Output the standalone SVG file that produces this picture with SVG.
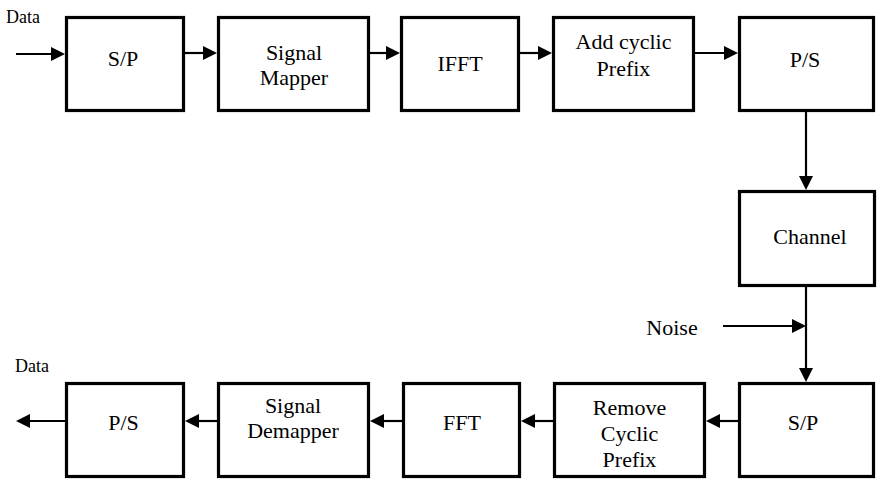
<svg xmlns="http://www.w3.org/2000/svg" width="877" height="479" viewBox="0 0 877 479" font-family="'Liberation Serif', 'Times New Roman', serif">
<style>
.box{fill:#fff;stroke:#000;stroke-width:3.2}
text{font-family:"Liberation Serif","Times New Roman",Times,serif;fill:#000}
.t{font-size:22px;text-anchor:middle}
.lbl{font-size:18px}
.c{stroke:#000;stroke-width:2.2;fill:none;marker-end:url(#ah)}
</style>
<defs>
<marker id="ah" markerUnits="userSpaceOnUse" markerWidth="16" markerHeight="16" refX="8" refY="7" orient="auto">
<path d="M0,0 L14,7 L0,14 Z" fill="#000"/>
</marker>
</defs>
<rect width="877" height="479" fill="#fff"/>
<g id="connectors">
<line class="c" x1="16" y1="54" x2="59" y2="54"/>
<line class="c" x1="185" y1="53" x2="211" y2="53"/>
<line class="c" x1="370" y1="53" x2="394" y2="53"/>
<line class="c" x1="520" y1="53" x2="546" y2="53"/>
<line class="c" x1="688" y1="53" x2="732" y2="53"/>
<line class="c" x1="806" y1="112" x2="806" y2="184"/>
<line class="c" x1="806" y1="287" x2="806" y2="376"/>
<line class="c" x1="723" y1="326" x2="800" y2="326"/>
<line class="c" x1="738" y1="421" x2="712" y2="421"/>
<line class="c" x1="553" y1="421" x2="527" y2="421"/>
<line class="c" x1="402" y1="421" x2="376" y2="421"/>
<line class="c" x1="217" y1="421" x2="191" y2="421"/>
<line class="c" x1="65" y1="421" x2="22" y2="421"/>
</g>
<g id="data-in"><text class="lbl" x="6" y="23">Data</text></g>
<g id="data-out"><text class="lbl" x="15" y="372">Data</text></g>
<g id="noise"><text class="t" x="672" y="335">Noise</text></g>
<g id="sp-tx"><rect class="box" x="66.5" y="17.5" width="117" height="93"/><text class="t" x="123" y="66">S/P</text></g>
<g id="mapper"><rect class="box" x="218.5" y="17.5" width="150" height="93"/><text class="t" x="294" y="60">Signal</text><text class="t" x="294" y="85">Mapper</text></g>
<g id="ifft"><rect class="box" x="401.5" y="17.5" width="117" height="93"/><text class="t" x="460" y="71">IFFT</text></g>
<g id="add-cp"><rect class="box" x="553.5" y="17.5" width="140" height="93"/><text class="t" x="623.5" y="49">Add cyclic</text><text class="t" x="623.5" y="76">Prefix</text></g>
<g id="ps-tx"><rect class="box" x="739.5" y="17.5" width="134" height="93"/><text class="t" x="805" y="67">P/S</text></g>
<g id="channel"><rect class="box" x="739.5" y="191.5" width="135" height="94"/><text class="t" x="810" y="244">Channel</text></g>
<g id="sp-rx"><rect class="box" x="739.5" y="383.5" width="134" height="93"/><text class="t" x="803" y="430">S/P</text></g>
<g id="remove-cp"><rect class="box" x="554.5" y="383.5" width="150" height="93"/><text class="t" x="629.5" y="415">Remove</text><text class="t" x="629.5" y="441">Cyclic</text><text class="t" x="629.5" y="467">Prefix</text></g>
<g id="fft"><rect class="box" x="403.5" y="383.5" width="116" height="93"/><text class="t" x="462" y="430">FFT</text></g>
<g id="demapper"><rect class="box" x="218.5" y="383.5" width="150" height="93"/><text class="t" x="293" y="413">Signal</text><text class="t" x="293" y="438">Demapper</text></g>
<g id="ps-rx"><rect class="box" x="66.5" y="383.5" width="117" height="93"/><text class="t" x="123.5" y="430">P/S</text></g>
</svg>
